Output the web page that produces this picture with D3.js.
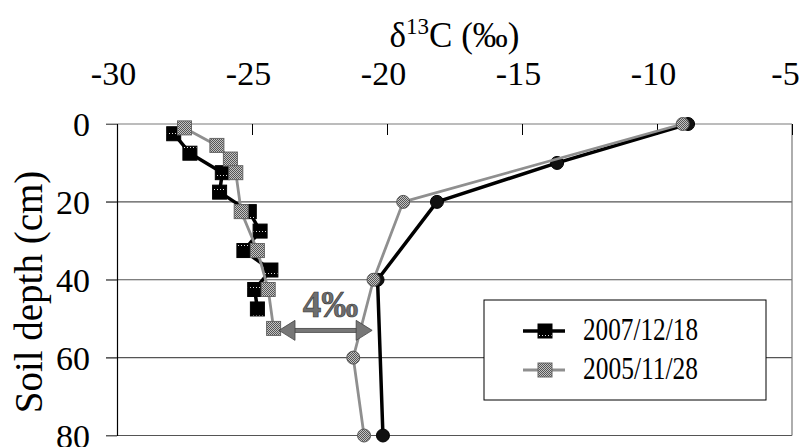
<!DOCTYPE html>
<html lang="en">
<head>
    <meta charset="UTF-8">
    <title>Soil depth profile</title>
    <script type="text/javascript" src="https://cdnjs.cloudflare.com/ajax/libs/d3/7.8.5/d3.min.js"></script>
    <style>
        body { margin: 0; background: #fff; }
        svg text { font-family: "Liberation Serif", "Times New Roman", serif; fill: #000; }
    </style>
</head>
<body>
<div id="chart"></div>
<script>
    // axis ticks
    var xTicks = [-30, -25, -20, -15, -10, -5];
    var yTicks = [0, 20, 40, 60, 80];

    // 2007/12/18, soil organic matter (squares)
    var depth07 = [2.5, 7.5, 12.5, 17.5, 22.5, 27.5, 32.5, 37.5, 42.5, 47.5];
    var d13c07 = [-27.9, -27.3, -26.1, -26.2, -25.1, -24.7, -25.3, -24.3, -24.9, -24.8];
    // 2005/11/28, soil organic matter (squares)
    var depth05 = [1, 5.5, 9, 12.5, 22.5, 32.5, 42.5, 52.5];
    var d13c05 = [-27.5, -26.3, -25.8, -25.6, -25.4, -24.8, -24.4, -24.2];

    // second profile of each date (circles)
    var depth07b = [0, 10, 20, 40, 80];
    var d13c07b = [-8.85, -13.7, -18.15, -20.35, -20.15];
    var depth05b = [0, 20, 40, 60, 80];
    var d13c05b = [-9.05, -19.4, -20.5, -21.25, -20.85];

    var legendLabels = ["2007/12/18", "2005/11/28"];

    // "4‰" arrow: from / to in d13C, at a depth
    var arrowX = [-24.0, -20.55];
    var arrowDepth = 53;

    var width = 803, height = 447;
    var margin = {top: 124, right: 11, bottom: 11.5, left: 117};

    var svg = d3.select("#chart").append("svg")
        .attr("width", width)
        .attr("height", height);

    var defs = svg.append("defs");

    // black square fill: black with a row of light dots
    var pb = defs.append("pattern")
        .attr("id", "blackSq")
        .attr("patternUnits", "userSpaceOnUse")
        .attr("width", 3).attr("height", 14);
    pb.append("rect").attr("width", 3).attr("height", 14).attr("fill", "#000");
    pb.append("rect").attr("x", 1).attr("y", 7).attr("width", 1).attr("height", 1).attr("fill", "#ddd");

    // gray square fill: dithered checker
    var pg = defs.append("pattern")
        .attr("id", "graySq")
        .attr("patternUnits", "userSpaceOnUse")
        .attr("width", 2).attr("height", 2);
    pg.append("rect").attr("width", 2).attr("height", 2).attr("fill", "#c4c4c4");
    pg.append("rect").attr("width", 1).attr("height", 1).attr("fill", "#555");
    pg.append("rect").attr("x", 1).attr("y", 1).attr("width", 1).attr("height", 1).attr("fill", "#555");

    var x = d3.scaleLinear()
        .domain([-30, -5])
        .range([margin.left, width - margin.right]);
    var y = d3.scaleLinear()
        .domain([0, 80])
        .range([margin.top, height - margin.bottom]);

    // gridlines
    svg.append("g")
        .selectAll("line")
        .data(yTicks)
        .enter().append("line")
        .attr("x1", x(-30) - 11)
        .attr("x2", x(-5))
        .attr("y1", function(d) { return y(d); })
        .attr("y2", function(d) { return y(d); })
        .attr("stroke", function(d) { return d === 0 ? "#7a7a7a" : "#555"; })
        .attr("stroke-width", 1.2);

    // right border
    svg.append("line")
        .attr("x1", x(-5)).attr("x2", x(-5))
        .attr("y1", y(0)).attr("y2", y(80))
        .attr("stroke", "#777").attr("stroke-width", 1.2);

    // top axis
    var xAxis = d3.axisTop(x)
        .tickValues(xTicks)
        .tickSizeInner(-11)
        .tickSizeOuter(0)
        .tickPadding(39)
        .tickFormat(function(d) { return String(d); });
    var gx = svg.append("g")
        .attr("transform", "translate(0," + y(0) + ")")
        .call(xAxis);
    gx.select(".domain").remove();
    gx.selectAll(".tick line").attr("stroke", "#000");
    gx.selectAll(".tick text")
        .attr("font-size", 34)
        .attr("dx", -4)
        .style("font-family", "Liberation Serif");
    gx.selectAll(".tick").filter(function(d) { return d === -5; }).select("text").attr("dx", -7);

    // left axis
    var yAxis = d3.axisLeft(y)
        .tickValues(yTicks)
        .tickSizeInner(11)
        .tickSizeOuter(0)
        .tickPadding(16);
    var gy = svg.append("g")
        .attr("transform", "translate(" + x(-30) + ",0)")
        .call(yAxis);
    gy.select(".domain").attr("stroke", "#000").attr("stroke-width", 1.2);
    gy.selectAll(".tick line").attr("stroke", "#666");
    gy.selectAll(".tick text")
        .attr("font-size", 34)
        .attr("dy", "0.34em")
        .style("font-family", "Liberation Serif");

    // axis titles
    var title = svg.append("text")
        .attr("x", x(-17.5))
        .attr("y", 47)
        .attr("text-anchor", "middle")
        .attr("font-size", 35);
    title.append("tspan").text("δ");
    title.append("tspan").attr("font-size", 23).attr("dy", -13).text("13");
    title.append("tspan").attr("dy", 13).text("C (‰)");

    svg.append("text")
        .attr("transform", "translate(42," + 292 + ") rotate(-90)")
        .attr("text-anchor", "middle")
        .attr("font-size", 39)
        .text("Soil depth (cm)");

    var line = d3.line()
        .x(function(d) { return x(d[0]); })
        .y(function(d) { return y(d[1]); });

    var series = [
        {pts: d3.zip(d13c07, depth07), shape: "sq", color: "#000", fill: "url(#blackSq)", lw: 3.5},
        {pts: d3.zip(d13c07b, depth07b), shape: "ci", color: "#000", fill: "#111", lw: 3.5},
        {pts: d3.zip(d13c05, depth05), shape: "sq", color: "#8f8f8f", fill: "url(#graySq)", lw: 2.8},
        {pts: d3.zip(d13c05b, depth05b), shape: "ci", color: "#8f8f8f", fill: "url(#graySq)", lw: 2.8}
    ];

    // lines first, then markers of each date
    series.forEach(function(s) {
        var g = svg.append("g");
        g.append("path")
            .attr("d", line(s.pts))
            .attr("fill", "none")
            .attr("stroke", s.color)
            .attr("stroke-width", s.lw)
            .attr("stroke-linejoin", "round");
        if (s.shape === "sq") {
            g.selectAll("rect")
                .data(s.pts)
                .enter().append("rect")
                .attr("x", function(d) { return x(d[0]) - 7; })
                .attr("y", function(d) { return y(d[1]) - 7; })
                .attr("width", 14)
                .attr("height", 14)
                .attr("fill", s.fill)
                .attr("stroke", s.color === "#000" ? "#000" : "#666")
                .attr("stroke-width", 1);
        } else {
            g.selectAll("circle")
                .data(s.pts)
                .enter().append("circle")
                .attr("cx", function(d) { return x(d[0]); })
                .attr("cy", function(d) { return y(d[1]); })
                .attr("r", 6.5)
                .attr("fill", s.fill)
                .attr("stroke", s.color === "#000" ? "#000" : "#555")
                .attr("stroke-width", 1);
        }
    });

    // double arrow with "4‰"
    var ay = y(arrowDepth);
    var ax0 = x(arrowX[0]), ax1 = x(arrowX[1]);
    var ag = svg.append("g").attr("fill", "#777").attr("stroke", "#444").attr("stroke-width", 0.8);
    ag.append("rect")
        .attr("x", ax0 + 12).attr("y", ay - 2)
        .attr("width", ax1 - ax0 - 24).attr("height", 4);
    ag.append("path")
        .attr("d", "M" + ax0 + "," + ay + "L" + (ax0 + 16) + "," + (ay - 10) + "L" + (ax0 + 16) + "," + (ay + 10) + "Z");
    ag.append("path")
        .attr("d", "M" + ax1 + "," + ay + "L" + (ax1 - 16) + "," + (ay - 10) + "L" + (ax1 - 16) + "," + (ay + 10) + "Z");

    svg.append("text")
        .attr("x", (ax0 + ax1) / 2 + 5)
        .attr("y", ay - 13)
        .attr("text-anchor", "middle")
        .attr("font-size", 37)
        .attr("font-weight", "bold")
        .style("fill", "#6e6e6e")
        .attr("stroke", "#333")
        .attr("stroke-width", 0.6)
        .text("4‰");

    // legend
    var lg = svg.append("g").attr("transform", "translate(484,300)");
    lg.append("rect")
        .attr("width", 282).attr("height", 100)
        .attr("fill", "#fff").attr("stroke", "#000").attr("stroke-width", 1);
    var legendSeries = [series[0], series[2]];
    legendLabels.forEach(function(lab, i) {
        var s = legendSeries[i];
        var cy = 31 + i * 39;
        lg.append("line")
            .attr("x1", 39).attr("x2", 81)
            .attr("y1", cy).attr("y2", cy)
            .attr("stroke", s.color).attr("stroke-width", s.lw);
        lg.append("rect")
            .attr("x", 54).attr("y", cy - 7)
            .attr("width", 14).attr("height", 14)
            .attr("fill", s.fill)
            .attr("stroke", s.color === "#000" ? "#000" : "#666");
        lg.append("text")
            .attr("x", 99)
            .attr("y", cy + 9)
            .attr("font-size", 32)
            .attr("textLength", 115)
            .attr("lengthAdjust", "spacingAndGlyphs")
            .text(lab);
    });
</script>
</body>
</html>
